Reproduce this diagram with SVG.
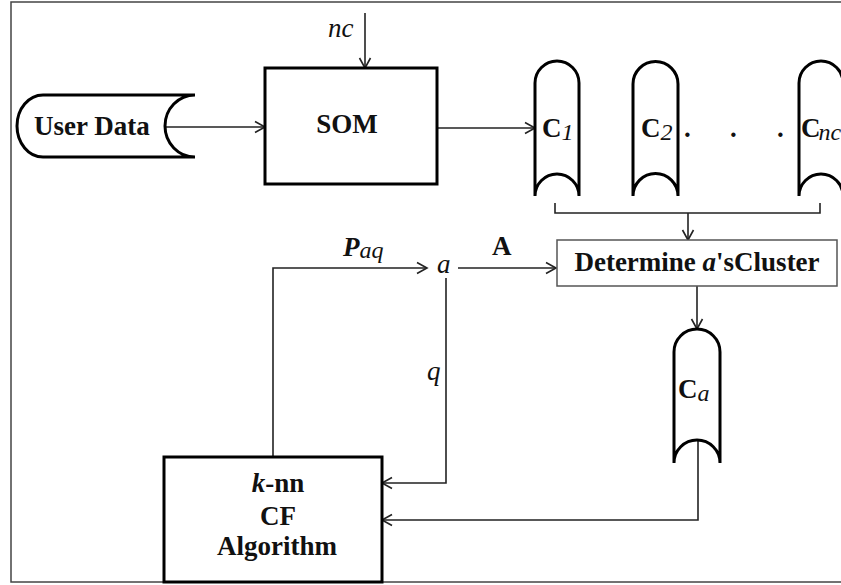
<svg xmlns="http://www.w3.org/2000/svg" width="841" height="585" viewBox="0 0 841 585" font-family="'Liberation Serif', 'DejaVu Serif', serif">
<style>
text, tspan { font-family: "Liberation Serif", "DejaVu Serif", serif; fill: #111; }
.b { font-weight: bold; font-size: 27px; }
.i { font-style: italic; font-size: 27px; }
.sub { font-style: italic; font-weight: normal; font-size: 24px; }
.thick { fill: #fff; stroke: #000; stroke-width: 3; }
.conn { fill: none; stroke: #222; stroke-width: 1.6; }
</style>
<defs>
<marker id="ah" markerUnits="userSpaceOnUse" markerWidth="14" markerHeight="14" viewBox="0 0 14 14" refX="12" refY="7" orient="auto">
<path d="M2,1.5 L12,7 L2,12.5" fill="none" stroke="#222" stroke-width="1.6"/>
</marker>
</defs>
<rect x="0" y="0" width="841" height="585" fill="#fff"/>
<rect id="frame" x="11" y="2" width="850" height="580" fill="none" stroke="#444" stroke-width="1.5"/>

<g id="connectors">
<line class="conn" x1="165" y1="127" x2="265" y2="127" marker-end="url(#ah)"/>
<line class="conn" x1="365" y1="13" x2="365" y2="68" marker-end="url(#ah)"/>
<line class="conn" x1="437" y1="128" x2="535" y2="128" marker-end="url(#ah)"/>
<path class="conn" d="M555,203 V213 H820 V203"/>
<line class="conn" x1="688" y1="213" x2="688" y2="240" marker-end="url(#ah)"/>
<line class="conn" x1="697" y1="286" x2="697" y2="329" marker-end="url(#ah)"/>
<path class="conn" d="M273,457 V268 H427" marker-end="url(#ah)"/>
<line class="conn" x1="458" y1="268" x2="556" y2="268" marker-end="url(#ah)"/>
<path class="conn" d="M446,278 V483 H382" marker-end="url(#ah)"/>
<path class="conn" d="M698,440 V520 H382" marker-end="url(#ah)"/>
</g>

<g id="userdata">
<path class="thick" d="M43,95 H195 A30,31 0 0 0 195,157 H43 A26,31 0 0 1 43,95 Z"/>
<text class="b" x="34" y="135">User Data</text>
</g>

<g id="som">
<rect class="thick" x="265" y="68" width="172" height="116"/>
<text class="b" x="347" y="133" text-anchor="middle">SOM</text>
</g>

<g id="nc-input">
<text class="i" x="328" y="37">nc</text>
</g>

<g id="c1">
<path class="thick" d="M535,196 V83 A22,22 0 0 1 579,83 V196 A22,22 0 0 0 535,196 Z"/>
<text class="b" x="542" y="137">C<tspan class="sub" dy="3">1</tspan></text>
</g>

<g id="c2">
<path class="thick" d="M633,196 V84 A22.5,22.5 0 0 1 678,84 V196 A22.5,22.5 0 0 0 633,196 Z"/>
<text class="b" x="641" y="137">C<tspan class="sub" dy="3">2</tspan></text>
</g>

<g id="dots">
<text class="b" x="684" y="137">.</text>
<text class="b" x="730" y="137">.</text>
<text class="b" x="777" y="137">.</text>
</g>

<g id="cnc">
<path class="thick" d="M799,196 V83 A22,22 0 0 1 843,83 V196 A22,22 0 0 0 799,196 Z"/>
<text class="b" x="801" y="137">C<tspan class="sub" dx="-2" dy="3" font-size="26">nc</tspan></text>
</g>

<g id="determine">
<rect x="557" y="240" width="280" height="46" fill="#fff" stroke="#555" stroke-width="1.5"/>
<text class="b" x="697" y="271" text-anchor="middle">Determine <tspan font-style="italic">a</tspan>'sCluster</text>
</g>

<g id="a-node">
<text class="i" x="437" y="273">a</text>
<text class="b" x="492" y="255">A</text>
<text x="343" y="256"><tspan class="b" font-style="italic">P</tspan><tspan class="sub" font-size="22" dy="2">aq</tspan></text>
<text class="i" x="427" y="380">q</text>
</g>

<g id="ca">
<path class="thick" d="M674,463 V352 A23,23 0 0 1 720,352 V463 A23,23 0 0 0 674,463 Z"/>
<text class="b" x="678" y="398">C<tspan class="sub" dy="3">a</tspan></text>
</g>

<g id="knn">
<rect class="thick" x="164" y="457" width="218" height="125"/>
<text class="b" x="278" y="492" text-anchor="middle"><tspan font-style="italic">k</tspan>-nn</text>
<text class="b" x="278" y="525" text-anchor="middle">CF</text>
<text class="b" x="277" y="555" text-anchor="middle">Algorithm</text>
</g>
</svg>
